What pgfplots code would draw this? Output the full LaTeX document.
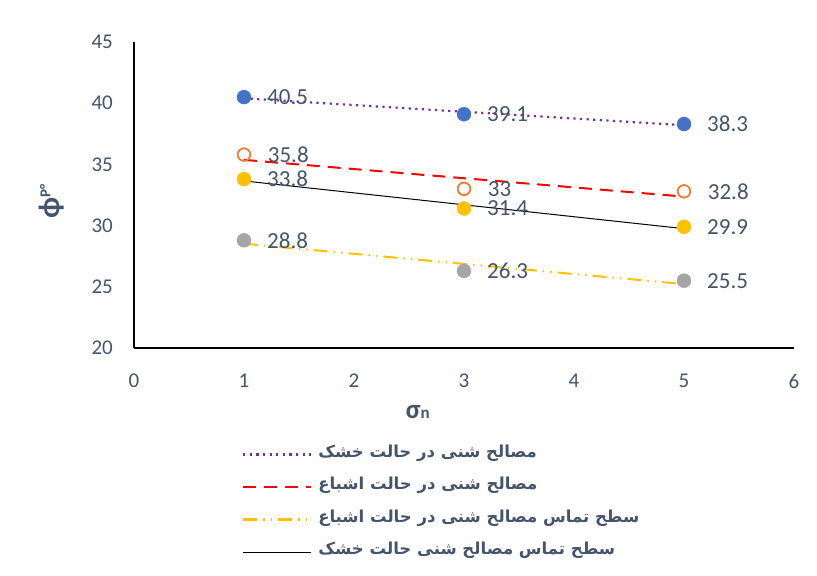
\documentclass[border=0pt]{standalone}
\usepackage{pgfplots}
\pgfplotsset{compat=1.18}
\usepackage{fontspec}
\setmainfont{Carlito}
\newfontfamily\arabicfont[Script=Arabic]{DejaVu Sans}
\TeXXeTstate=1
\definecolor{txt}{HTML}{44546A}
\definecolor{cblue}{HTML}{4472C4}
\definecolor{corange}{HTML}{ED7D31}
\definecolor{cyellow}{HTML}{FFC000}
\definecolor{cgray}{HTML}{A5A5A5}
\definecolor{cpurple}{HTML}{7030A0}
\definecolor{cred}{HTML}{FF0000}
\begin{document}
\begin{tikzpicture}
\path[use as bounding box] (-134bp,-228bp) rectangle (683bp,348bp);
\begin{axis}[
  at={(0,0)}, anchor=south west,
  scale only axis, width=660bp, height=306bp,
  xmin=0, xmax=6, ymin=20, ymax=45,
  xtick={0,1,2,3,4,5,6}, ytick={20,25,30,35,40,45},
  axis x line*=bottom, axis y line*=left,
  axis line style={line width=2.5bp, black, -},
  major tick length=0pt,
  clip=false,
  /pgf/number format/assume math mode=true,
  tick label style={font=\fontsize{21bp}{21bp}\selectfont, text=txt, inner sep=0pt},
  yticklabel style={anchor=east, xshift=-21bp},
  xticklabel style={anchor=north, yshift=-26bp},
  xlabel={\bfseries σ\raisebox{-0.5bp}{\fontsize{17bp}{17bp}\selectfont n}},
  xlabel style={at={(axis description cs:0.43,-0.209)}, anchor=center, font=\fontsize{27bp}{27bp}\selectfont, text=txt},
  ylabel={\bfseries ϕ\raisebox{9bp}{\fontsize{15bp}{15bp}\selectfont P°}},
  ylabel style={at={(axis description cs:-0.125,0.48)}, anchor=center, font=\fontsize{30bp}{30bp}\selectfont, text=txt},
  nodes near coords,
  every node near coord/.style={anchor=west, xshift=23bp, inner sep=0pt, font=\fontsize{23bp}{23bp}\selectfont, text=txt},
  legend style={at={(rel axis cs:0.1636,-0.291)}, anchor=north west, draw=none, fill=none, inner sep=0pt, row sep=0pt,
    nodes={inner sep=0pt, text height=20bp, text depth=12.5bp},
    font=\arabicfont\bfseries\fontsize{16.5bp}{20bp}\selectfont, text=txt},
  legend cell align=left,
  legend image code/.code={\draw[#1] (0bp,-1bp) -- (68bp,-1bp); \path[draw=none] (0bp,-1bp) -- (75bp,-1bp);},
]
% markers
\addplot[only marks, mark=*, mark size=7bp, mark options={fill=cblue, draw=cblue}, forget plot]
  coordinates {(1,40.5) (3,39.1) (5,38.3)};
\addplot[only marks, mark=o, mark size=6.3bp, mark options={draw=corange, line width=1.8bp, fill=white}, forget plot]
  coordinates {(1,35.8) (3,33) (5,32.8)};
\addplot[only marks, mark=*, mark size=7bp, mark options={fill=cyellow, draw=cyellow}, forget plot]
  coordinates {(1,33.8) (3,31.4) (5,29.9)};
\addplot[only marks, mark=*, mark size=7bp, mark options={fill=cgray, draw=cgray}, forget plot]
  coordinates {(1,28.8) (3,26.3) (5,25.5)};
% trend lines
\addplot[cpurple, line width=2.2bp, dash pattern=on 2.2bp off 4.4bp, nodes near coords={}, no marks]
  coordinates {(1,40.4) (5,38.2)};
\addlegendentry{\beginR مصالح شنی در حالت خشک\endR}
\addplot[cred, line width=2bp, dash pattern=on 13bp off 8bp, nodes near coords={}, no marks]
  coordinates {(1,35.37) (5,32.37)};
\addlegendentry{\beginR مصالح شنی در حالت اشباع\endR}
\addplot[cyellow, line width=2bp, dash pattern=on 14bp off 6bp on 1.5bp off 6bp on 1.5bp off 6bp, nodes near coords={}, no marks]
  coordinates {(1,28.52) (5,25.22)};
\addlegendentry{\beginR سطح تماس مصالح شنی در حالت اشباع\endR}
\addplot[black, line width=1bp, nodes near coords={}, no marks]
  coordinates {(1,33.65) (5,29.75)};
\addlegendentry{\beginR سطح تماس مصالح شنی حالت خشک\endR}
\end{axis}
\end{tikzpicture}
\end{document}
